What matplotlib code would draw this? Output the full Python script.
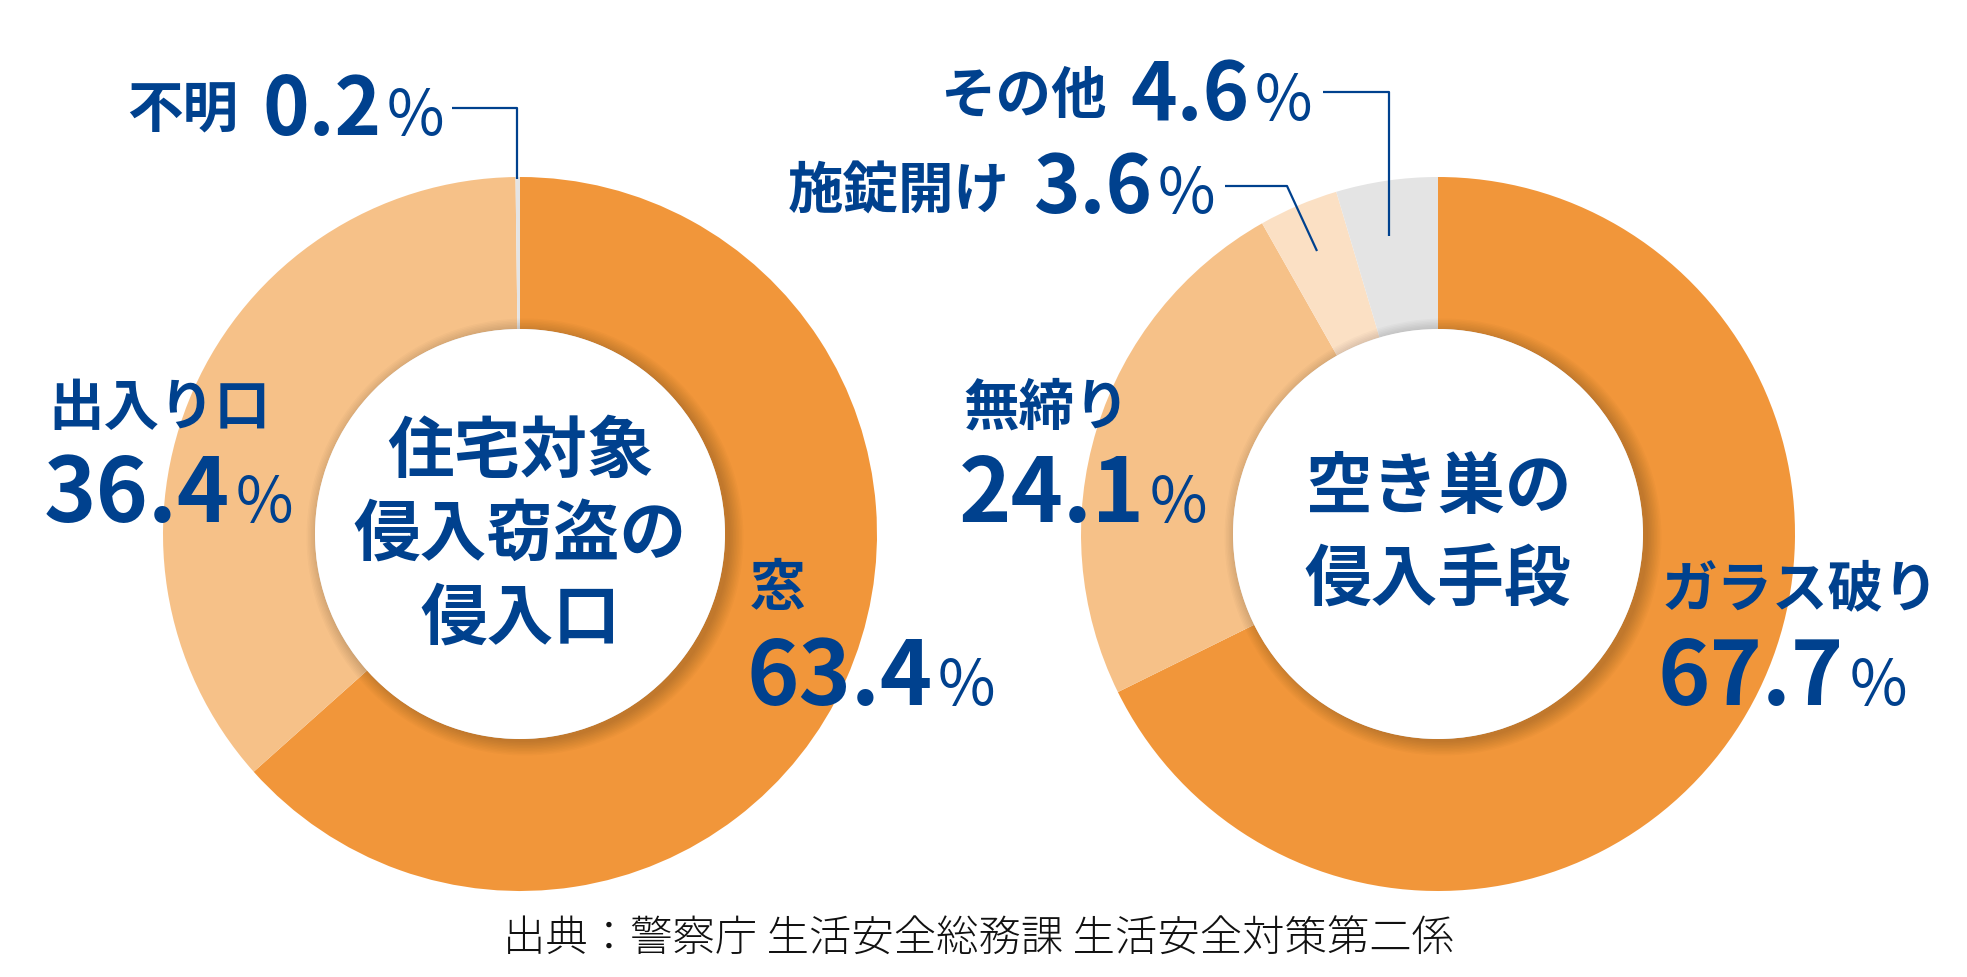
import matplotlib
matplotlib.use("Agg")
import matplotlib.pyplot as plt
from matplotlib.patches import Circle

# data
left_labels = ["窓", "出入り口", "不明"]
left_values = [63.4, 36.4, 0.2]
right_labels = ["ガラス破り", "無締り", "施錠開け", "その他"]
right_values = [67.7, 24.1, 3.6, 4.6]
left_title = ["住宅対象", "侵入窃盗の", "侵入口"]
right_title = ["空き巣の", "侵入手段"]
source = "出典：警察庁 生活安全総務課 生活安全対策第二係"

W, H = 1967, 978
BLUE = "#00418E"
ORANGE = "#F1963A"
LIGHT = "#F6C188"
PALE = "#FBE0C4"
GRAY = "#E4E4E4"
FONT = ["Noto Sans CJK JP", "DejaVu Sans"]

R_OUT, R_IN = 357, 205
LC = (520, 535)
RC = (1438, 535)


def Y(py):
    return H - py


fig = plt.figure(figsize=(W / 100, H / 100), dpi=100)
ax = fig.add_axes([0, 0, 1, 1])


def donut(center, values, colors):
    cx, cy = center
    ax.pie(values, colors=colors, startangle=90, counterclock=False,
           center=(cx, Y(cy)), radius=R_OUT, frame=True,
           wedgeprops=dict(width=R_OUT - R_IN, linewidth=0))
    # soft shadow under the inner white disc
    for i in range(10):
        ax.add_patch(Circle((cx + 5, Y(cy) - 3), R_IN + 1.5 * i,
                            color="black", alpha=0.02, lw=0, zorder=3))
    ax.add_patch(Circle((cx, Y(cy)), R_IN, color="white", lw=0, zorder=4))


donut(LC, left_values, [ORANGE, LIGHT, GRAY])
donut(RC, right_values, [ORANGE, LIGHT, PALE, GRAY])

ax.set_xlim(0, W)
ax.set_ylim(0, H)
ax.set_aspect("equal")
ax.axis("off")

fig.canvas.draw()
renderer = fig.canvas.get_renderer()


def label(name, value, x, name_y, num_y, num_size, inline=False):
    # category name
    t = ax.text(x, Y(name_y), name, fontsize=40, color=BLUE, family=FONT,
                weight="bold", ha="left", va="center", zorder=6)
    if inline:
        bb = t.get_window_extent(renderer)
        nx = bb.x1 + 24
    else:
        nx = x - 4
    n = ax.text(nx, Y(num_y), f"{value}", fontsize=num_size, color=BLUE,
                family=FONT, weight="bold", ha="left", va="baseline", zorder=6)
    bb = n.get_window_extent(renderer)
    ax.text(bb.x1 + 5, Y(num_y), "%", fontsize=45, color=BLUE, family=FONT,
            weight="normal", ha="left", va="baseline", zorder=6)


label(left_labels[0], left_values[0], 750, 589, 705, 64)
label(left_labels[1], left_values[1], 48, 409, 522, 64)
label(left_labels[2], left_values[2], 127, 112, 135, 57, inline=True)

label(right_labels[0], right_values[0], 1662, 590, 705, 64)
label(right_labels[1], right_values[1], 963, 409, 522, 64)
label(right_labels[2], right_values[2], 788, 193, 213, 57, inline=True)
label(right_labels[3], right_values[3], 940, 97, 120, 57, inline=True)

# leader lines
lk = dict(color=BLUE, lw=1.6, zorder=6, solid_capstyle="butt")
ax.plot([452, 517, 517], [Y(109), Y(109), Y(180)], **lk)
ax.plot([1323, 1389, 1389], [Y(93), Y(93), Y(237)], **lk)
ax.plot([1225, 1287, 1317], [Y(187), Y(187), Y(252)], **lk)

# centre titles
for line, cy in zip(left_title, [452, 536, 619]):
    ax.text(LC[0], Y(cy), line, fontsize=48, color=BLUE, family=FONT,
            weight="bold", ha="center", va="center", zorder=6)
for line, cy in zip(right_title, [489, 580]):
    ax.text(RC[0], Y(cy), line, fontsize=48, color=BLUE, family=FONT,
            weight="bold", ha="center", va="center", zorder=6)

ax.text(978, Y(940), source, fontsize=30.5, color="#111111", family=FONT,
        weight="light", ha="center", va="center", zorder=6)

fig.savefig("out.png", dpi=100)
